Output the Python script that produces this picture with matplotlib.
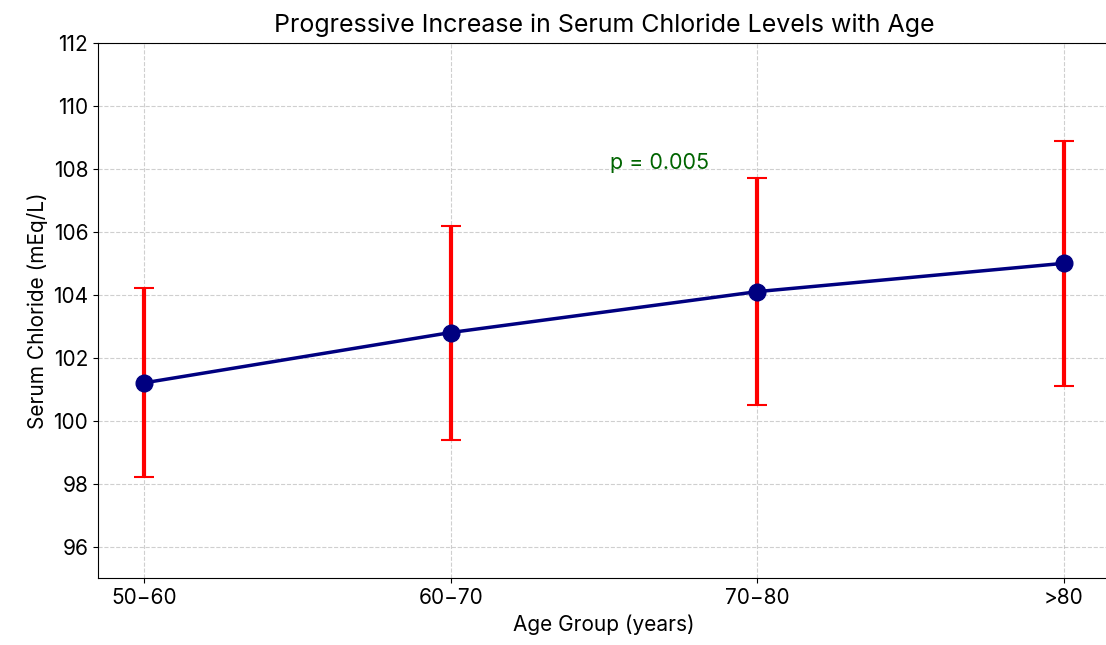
import numpy as np
import matplotlib
matplotlib.use("Agg")
import matplotlib.pyplot as plt

plt.rcParams.update({
    "font.family": ["Inter", "DejaVu Sans"],
    "font.size": 15,
})

# ── Data ────────────────────────────────────────────────────────────────────
age_groups = ["50\u221260", "60\u221270", "70\u221280", ">80"]
chloride_mean = np.array([101.2, 102.8, 104.1, 105.0])
chloride_sd = np.array([3.0, 3.4, 3.6, 3.9])
p_text = "p = 0.005"

# ── Figure ──────────────────────────────────────────────────────────────────
fig, ax = plt.subplots(figsize=(11.06, 6.45), dpi=100)
fig.subplots_adjust(left=0.0886, right=1.0036, top=0.9333, bottom=0.1039)
x = np.arange(len(age_groups))

ax.errorbar(x, chloride_mean, yerr=chloride_sd, fmt="o-", color="navy",
            ecolor="red", elinewidth=3, capsize=7, capthick=1.5,
            lw=2.5, ms=12, zorder=3)

ax.text(1.68, 108, p_text, ha="center", color="darkgreen", fontsize=15.5)

ax.set_xticks(x)
ax.set_xticklabels(age_groups)
ax.set_ylim(95, 112)
ax.set_yticks(np.arange(96, 113, 2))
ax.set_xlabel("Age Group (years)", labelpad=5)
ax.set_ylabel("Serum Chloride (mEq/L)")
ax.set_title("Progressive Increase in Serum Chloride Levels with Age",
             fontsize=18, pad=8)
ax.grid(True, ls="--", alpha=0.6)
ax.tick_params(labelsize=15)

fig.savefig("out.png", dpi=100)
